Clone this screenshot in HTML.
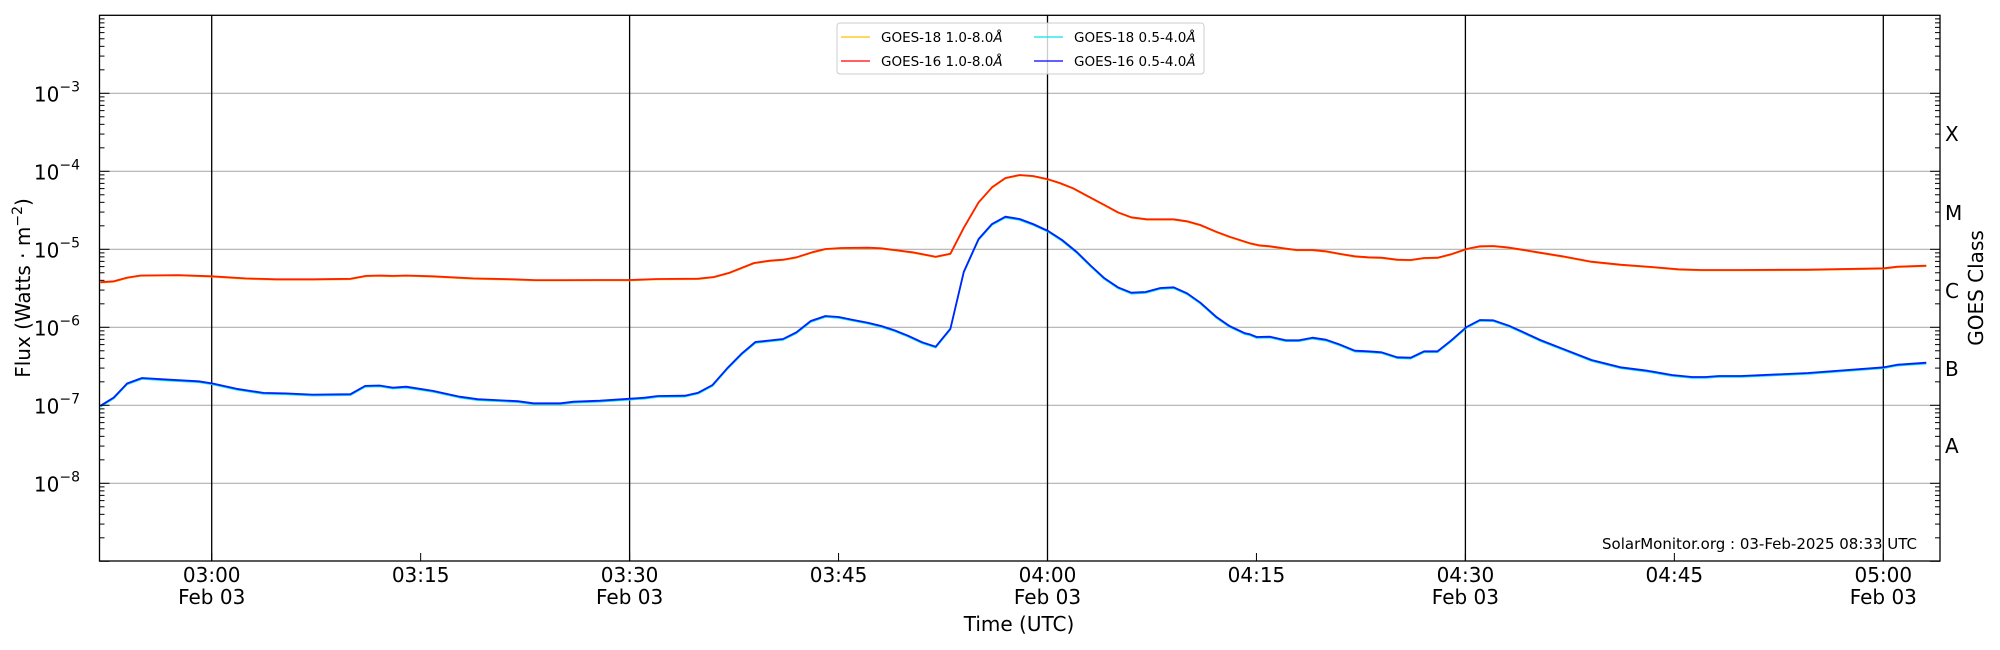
<!DOCTYPE html>
<html><head><meta charset="utf-8"><style>
html,body{margin:0;padding:0;background:#fff;}
svg{display:block;font-family:"DejaVu Sans","Liberation Sans",sans-serif;}
</style></head><body>
<svg id="s" width="2000" height="650" viewBox="0 0 2000 650" xmlns="http://www.w3.org/2000/svg">
<rect width="2000" height="650" fill="#fff"/>
<g id="grid"></g>
<g id="series"></g>
<g id="ticks"></g>
<rect x="99.5" y="15.3" width="1840.5" height="545.7" fill="none" stroke="#000" stroke-width="1.3"/>
<!-- legend -->
<rect x="837" y="23" width="367" height="51" rx="3" fill="#fff" fill-opacity="0.8" stroke="#ccc" stroke-width="1"/>
<g font-size="13.5">
<line x1="841" y1="37" x2="870" y2="37" stroke="#ffc000" stroke-width="1.3"/>
<text x="881" y="42">GOES-18 1.0-8.0<tspan font-style="italic">Å</tspan></text>
<line x1="841" y1="61" x2="870" y2="61" stroke="#ff0000" stroke-width="1.3"/>
<text x="881" y="66">GOES-16 1.0-8.0<tspan font-style="italic">Å</tspan></text>
<line x1="1034" y1="37" x2="1063" y2="37" stroke="#00e5ee" stroke-width="1.3"/>
<text x="1074" y="42">GOES-18 0.5-4.0<tspan font-style="italic">Å</tspan></text>
<line x1="1034" y1="61" x2="1063" y2="61" stroke="#0000ff" stroke-width="1.3"/>
<text x="1074" y="66">GOES-16 0.5-4.0<tspan font-style="italic">Å</tspan></text>
</g>
<text x="1917" y="549" font-size="15" text-anchor="end">SolarMonitor.org : 03-Feb-2025 08:33 UTC</text>
<g id="labels" font-size="20"></g>
<text x="1019" y="631" font-size="20" text-anchor="middle">Time (UTC)</text>
<text transform="translate(30,288) rotate(-90)" font-size="20" text-anchor="middle">Flux (Watts · m<tspan baseline-shift="super" font-size="14">−2</tspan>)</text>
<text transform="translate(1983,288) rotate(-90)" font-size="20" text-anchor="middle">GOES Class</text>
<g font-size="20">
<text x="1945" y="141">X</text>
<text x="1945" y="220">M</text>
<text x="1945" y="298">C</text>
<text x="1945" y="376">B</text>
<text x="1945" y="453">A</text>
</g>
</svg>
<script>
const NS="http://www.w3.org/2000/svg";
function el(p,t,a,txt){const e=document.createElementNS(NS,t);for(const k in a)e.setAttribute(k,a[k]);if(txt!==undefined)e.textContent=txt;document.getElementById(p).appendChild(e);return e;}
const L=99.5,R=1940,T=15.3,B=561,D=78;
function yv(l){return T+(-2-l)*D;}
function xm(m){return 211.7+m*13.93;}
for(let e=-3;e>=-8;e--){el("grid","line",{x1:L,x2:R,y1:yv(e),y2:yv(e),stroke:"#b0b0b0","stroke-width":1.2});}
[0,30,60,90,120].forEach(m=>el("grid","line",{x1:xm(m),x2:xm(m),y1:T,y2:B,stroke:"#000","stroke-width":1.3}));
for(let e=-9;e<-2+0.001;e++){
  for(let k=1;k<10;k++){
    const l=e+Math.log10(k); if(l>-2.0001||l<-9)continue;
    const y=yv(l), len=k==1?10:5;
    el("ticks","line",{x1:L,x2:L+len,y1:y,y2:y,stroke:"#000","stroke-width":1});
    el("ticks","line",{x1:R,x2:R-len,y1:y,y2:y,stroke:"#000","stroke-width":1});
  }
}
for(let e=-3;e>=-8;e--){
  const t=el("labels","text",{x:80,y:yv(e)+8,"text-anchor":"end"});
  t.appendChild(document.createTextNode("10"));
  const s=document.createElementNS(NS,"tspan");s.setAttribute("font-size","14");s.setAttribute("dy","-10");s.textContent="−"+(-e);t.appendChild(s);
}
for(let m=0;m<=120;m+=15){
  const x=xm(m);
  el("ticks","line",{x1:x,x2:x,y1:B,y2:B-8,stroke:"#000","stroke-width":1});
  const hh=3+Math.floor(m/60), mm=m%60;
  el("labels","text",{x:x,y:582,"text-anchor":"middle"},"0"+hh+":"+(mm<10?"0":"")+mm);
  if(m%30==0) el("labels","text",{x:x,y:604,"text-anchor":"middle"},"Feb 03");
}
const z1r=[[225,680],[255,678],[285,669],[315,664],[400,663],[475,666],[550,671],[620,673],[700,673],[785,672],[820,665],[850,664],[880,665],[910,664],[970,666],[1060,671],[1150,673],[1200,675],[1260,675]];
const z1b=[[225,978],[255,958],[285,924],[318,911],[380,915],[445,919],[475,924],[530,937],[590,947],[640,948],[700,951],[785,950],[818,930],[850,929],[880,934],[910,932],[970,942],[1030,956],[1070,962],[1160,967],[1195,972],[1255,972],[1285,968]];
const z4r=[[0,540],[68,540],[130,537],[220,536],[255,531],[290,518],[345,489],[380,482],[410,479],[440,472],[475,457],[505,447],[540,444],[600,443],[630,445],[660,450],[700,457],[752,470],[785,461],[815,383],[848,307],[878,262],[908,234],[940,225],[970,228],[1004,238],[1030,249],[1060,265],[1095,290],[1130,315],[1160,337],[1190,352],[1225,358],[1285,358],[1315,364],[1345,375],[1380,395],[1410,410],[1445,425],[1475,435],[1505,438]];
const z4b=[[0,902],[68,896],[100,893],[130,888],[190,887],[220,878],[252,855],[285,805],[318,760],[348,726],[410,717],[440,697],[472,663],[505,648],[535,651],[565,659],[600,668],[630,678],[660,691],[690,707],[722,727],[752,740],[785,686],[815,515],[848,417],[878,372],[908,350],[940,357],[970,372],[1004,393],[1035,420],[1068,456],[1100,498],[1130,535],[1160,562],[1190,578],[1222,576],[1255,564],[1285,562],[1315,580],[1345,608],[1380,650],[1410,678],[1445,700],[1475,712],[1505,711]];
const z5r=[[0,430],[20,436],[45,439],[75,445],[105,450],[140,450],[170,454],[200,461],[235,469],[265,472],[295,473],[330,479],[360,480],[390,474],[420,473],[450,463],[485,447],[515,439],[545,438],[575,442],[610,449],[650,458],[700,469],[765,485],[830,494],[900,501],[960,508],[1010,510],[1100,510],[1250,509],[1420,505],[1450,500],[1515,497]];
const z5b=[[0,703],[15,711],[45,710],[80,721],[110,721],[140,713],[170,719],[200,733],[235,752],[265,754],[295,757],[330,772],[360,773],[390,754],[420,754],[450,722],[485,681],[515,660],[545,661],[580,677],[610,695],[650,720],[700,746],[765,780],[830,802],[890,812],[945,825],[990,831],[1020,831],[1050,828],[1100,828],[1250,819],[1420,802],[1450,794],[1515,788]];
function build(a,b,c){
  let p=a.map(q=>[q[0]/2.24,q[1]/2.41]).filter(q=>q[0]<600);
  p=p.concat(b.map(q=>[600+q[0]/2.24,100+q[1]/3]).filter(q=>q[0]<1250));
  p=p.concat(c.map(q=>[1250+q[0]/2.24,100+q[1]/3]));
  return p;
}
function pl(p,col,dy,w){el("series","polyline",{points:p.map(q=>q[0].toFixed(1)+","+(q[1]+dy).toFixed(1)).join(" "),fill:"none",stroke:col,"stroke-width":w,"stroke-linejoin":"round"});}
const red=build(z1r,z4r,z5r), blue=build(z1b,z4b,z5b);
pl(red,"#ffc000",0.5,1.6); pl(blue,"#00e5ee",1.0,1.5);
pl(red,"#ff2000",0,1.8); pl(blue,"#0022ff",0,1.8);
</script>
</body></html>
